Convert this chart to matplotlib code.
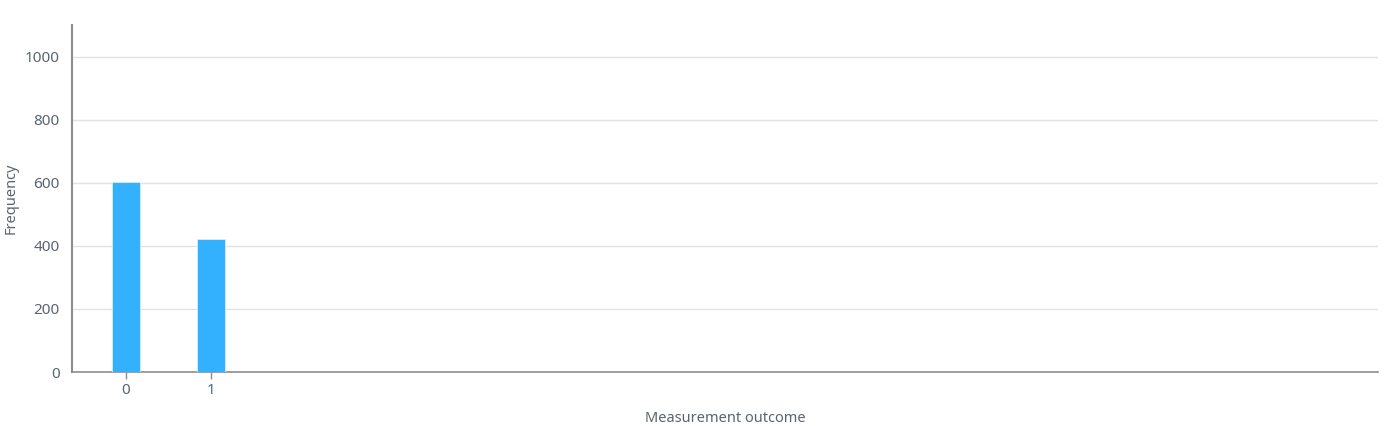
import matplotlib
matplotlib.use("Agg")
import matplotlib.pyplot as plt

outcomes = ["0", "1"]
counts = [603, 421]
y_ticks = [0, 200, 400, 600, 800, 1000]

plt.rcParams['font.family'] = ['Noto Sans', 'DejaVu Sans']
text_color = "#5a6470"

fig = plt.figure(figsize=(14, 4.26), dpi=100)
ax = fig.add_axes([72/1400, 1 - 372/426, (1378-72)/1400, (372-25)/426])

xs = list(range(len(outcomes)))
ax.bar(xs, counts, width=0.32, color="#33b1ff", edgecolor="#d6eefc", linewidth=0.6, zorder=3)

ax.set_xlim(-0.635, 14.73)
ax.set_ylim(0, 1101)
ax.set_xticks(xs)
ax.set_xticklabels(outcomes)
ax.set_yticks(y_ticks)
ax.set_yticklabels([str(v) for v in y_ticks])

ax.grid(axis="y", color="#e3e3e3", linewidth=1, zorder=0)
for s in ["top", "right"]:
    ax.spines[s].set_visible(False)
ax.spines["left"].set_color("#8d8d8d")
ax.spines["left"].set_linewidth(1.5)
ax.spines["bottom"].set_color("#8d8d8d")
ax.spines["bottom"].set_linewidth(1.2)

ax.tick_params(axis="x", colors="#8d8d8d", length=5, width=1, labelsize=11, labelcolor=text_color, pad=3)
for lbl, c in zip(ax.get_xticklabels(), [text_color, "#3f6d93"]):
    lbl.set_color(c)
ax.tick_params(axis="y", length=0, labelsize=11, labelcolor=text_color, pad=9)

ax.set_xlabel("Measurement outcome", fontsize=10.5, color=text_color, va="center")
ax.xaxis.set_label_coords(0.5, (372 - 418) / 347)
ax.set_ylabel("Frequency", fontsize=10.5, color=text_color, va="center")
ax.yaxis.set_label_coords((11 - 72) / 1306, (372 - 198) / 347)

fig.savefig("out.png", dpi=100)
